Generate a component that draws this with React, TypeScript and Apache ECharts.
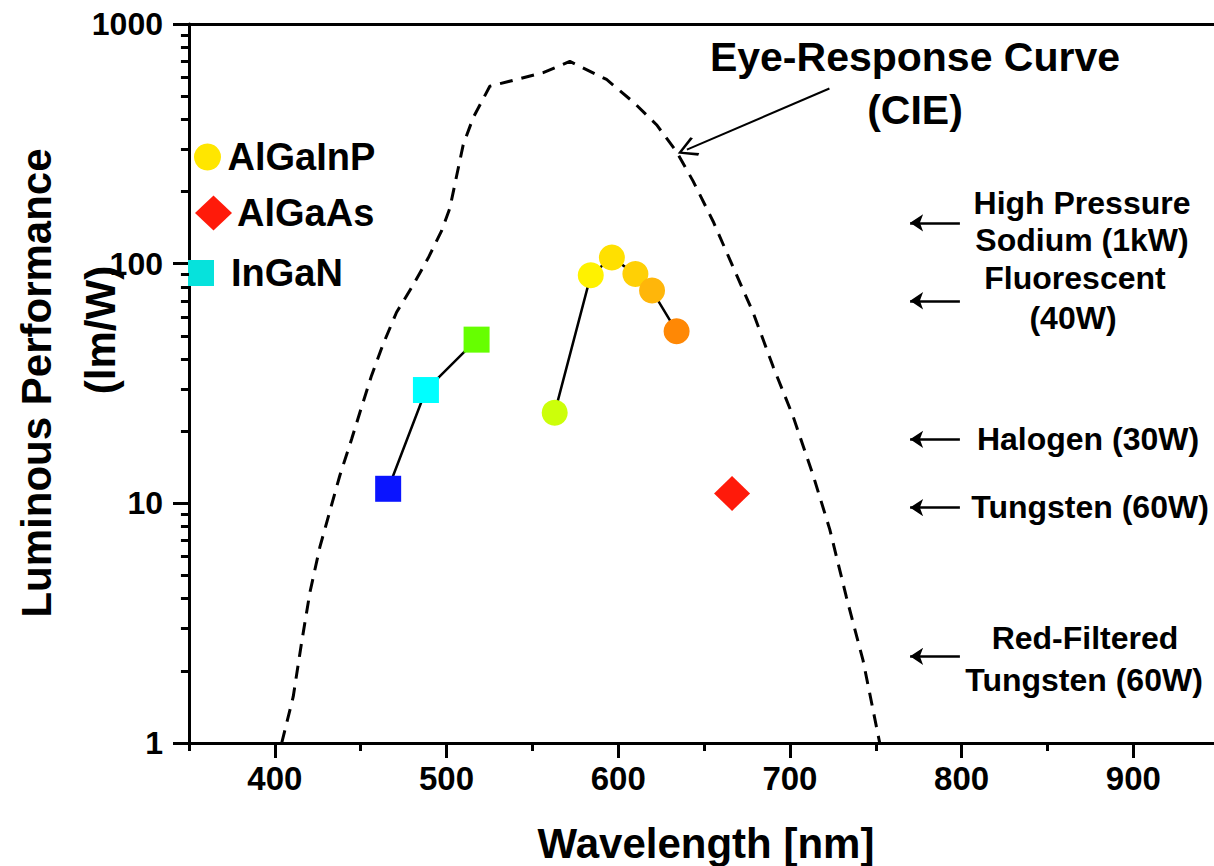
import React, { useEffect, useRef } from 'react';
import * as echarts from 'echarts';

const FONT = "'Liberation Sans', Arial, Helvetica, sans-serif";

// CIE photopic eye-response curve (wavelength in nm, lm/W)
const eyeWavelength = [404, 410.7, 415.6, 420.4, 426.2, 432, 437.9, 444.7, 450.5, 456.3, 463.1, 470.9, 480.5, 489.3, 497.1, 501.9, 505.8, 509.7, 515.5, 525.2, 540.8, 556.3, 571.8, 593.2, 608.7, 622.3, 634, 643.6, 655.3, 666.9, 678.5, 690.2, 701.9, 713.5, 723.2, 732.9, 742.6, 752.3];
const eyeEfficacy = [1, 1.56, 2.63, 4.24, 6.56, 9.26, 13.1, 18.5, 25.2, 34.1, 46.2, 62.7, 81.3, 105.5, 137, 170, 231, 313, 406, 550, 587, 627, 698, 587, 473, 380, 293, 221, 150, 96.8, 62.7, 37.2, 23.0, 13.1, 7.79, 4.06, 2.21, 1];

// InGaN LEDs
const inganWavelength = [466, 488, 517.5];
const inganEfficacy = [11.5, 29.7, 48.2];
const inganColors = ['#0a14ff', '#00ffff', '#66ff00'];

// AlGaInP LEDs
const algainpWavelength = [563, 584, 596.3, 610, 619.7, 634];
const algainpEfficacy = [23.9, 89.4, 106, 90.6, 77.2, 52.2];
const algainpColors = ['#ccff0a', '#fff200', '#ffe000', '#ffd005', '#ffb60a', '#ff8805'];

// AlGaAs LED
const algaasWavelength = [666.3];
const algaasEfficacy = [11.0];
const algaasColors = ['#ff1a0a'];

// Conventional lamps
const lampNames = ['High Pressure Sodium (1kW)', 'Fluorescent (40W)', 'Halogen (30W)', 'Tungsten (60W)', 'Red-Filtered Tungsten (60W)'];
const lampEfficacy = [148, 70, 18.5, 9.6, 2.3];

// Axis ranges and ticks
const X_MIN = 350;
const X_MAX = 947;
const xMajorTicks = [400, 500, 600, 700, 800, 900];
const xMinorTicks = [350, 450, 550, 650, 750, 850];
const yMinorTicks = [2, 3, 4, 5, 6, 7, 8, 9, 20, 30, 40, 50, 60, 70, 80, 90, 200, 300, 400, 500, 600, 700, 800, 900];

const pts = (xs: number[], ys: number[]) => xs.map((x, i) => [x, ys[i]]);
const coloredPts = (xs: number[], ys: number[], colors: string[]) =>
  xs.map((x, i) => ({ value: [x, ys[i]], itemStyle: { color: colors[i] } }));

const bold = (size: number) => `bold ${size}px ${FONT}`;

function label(text: string, x: number, y: number, size: number, rotation = 0) {
  return {
    type: 'text',
    x,
    y,
    rotation,
    silent: true,
    style: {
      text,
      font: bold(size),
      fill: '#000',
      align: 'center',
      verticalAlign: 'middle',
      textAlign: 'center',
      textVerticalAlign: 'middle',
    },
  };
}

const textBlocks = () => [
  label('Luminous Performance', 36, 383, 42, Math.PI / 2),
  label('(lm/W)', 100, 330, 42, Math.PI / 2),
  label('Wavelength [nm]', 706, 843, 42),
  label('Eye-Response Curve', 915, 57, 41),
  label('(CIE)', 915, 110, 41),
  label('High Pressure', 1082, 203, 32),
  label('Sodium (1kW)', 1082, 240, 32),
  label('Fluorescent', 1075, 278, 32),
  label('(40W)', 1073, 318, 32),
  label('Halogen (30W)', 1088, 439, 32),
  label('Tungsten (60W)', 1090, 507, 32),
  label('Red-Filtered', 1085, 638, 32),
  label('Tungsten (60W)', 1084, 680, 32),
];

function buildOption(): any {
  const black = '#000';
  const legendText = { fontSize: 38, fontWeight: 'bold', fontFamily: FONT, color: black };
  return {
    animation: false,
    backgroundColor: '#fff',
    grid: { left: 189, right: 0, top: 24, bottom: 123, outerBoundsMode: 'none', containLabel: false },
    legend: [
      {
        data: [{ name: 'AlGaInP', icon: 'circle' }],
        left: 194, top: 138, padding: 0, itemWidth: 30, itemHeight: 27,
        selectedMode: false, textStyle: legendText,
      },
      {
        data: [{ name: 'AlGaAs', icon: 'diamond' }],
        left: 195, top: 194, padding: 0, itemWidth: 37, itemHeight: 35,
        selectedMode: false, textStyle: legendText,
      },
      {
        data: [{ name: 'InGaN', icon: 'path://M0,0h10v10h-10z' }],
        left: 188, top: 254, padding: 0, itemWidth: 50, itemHeight: 26,
        selectedMode: false, textStyle: legendText,
      },
    ],
    xAxis: [
      {
        type: 'value', position: 'bottom', min: X_MIN, max: X_MAX,
        axisLine: { show: true, onZero: false, lineStyle: { color: black, width: 3 } },
        axisTick: { show: true, customValues: xMajorTicks, length: 15, lineStyle: { color: black, width: 3 } },
        axisLabel: { customValues: xMajorTicks, margin: 19, fontSize: 33, fontWeight: 'bold', fontFamily: FONT, color: black },
        splitLine: { show: false },
      },
      {
        type: 'value', position: 'bottom', min: X_MIN, max: X_MAX,
        axisLine: { show: false },
        axisTick: { show: true, customValues: xMinorTicks, length: 8, lineStyle: { color: black, width: 3 } },
        axisLabel: { show: false },
        splitLine: { show: false },
      },
      {
        type: 'value', position: 'top', min: X_MIN, max: X_MAX,
        axisLine: { show: true, onZero: false, lineStyle: { color: black, width: 3 } },
        axisTick: { show: false },
        axisLabel: { show: false },
        splitLine: { show: false },
      },
    ],
    yAxis: {
      type: 'log', logBase: 10, position: 'left', min: 1, max: 1000,
      axisLine: { show: true, onZero: false, lineStyle: { color: black, width: 3 } },
      axisTick: { show: true, length: 16, lineStyle: { color: black, width: 3 } },
      axisLabel: {
        margin: 26, fontSize: 32, fontWeight: 'bold', fontFamily: FONT, color: black,
        formatter: (v: number) => String(v),
      },
      splitLine: { show: false },
    },
    series: [
      {
        name: 'Eye-Response Curve (CIE)',
        type: 'line',
        data: pts(eyeWavelength, eyeEfficacy),
        symbol: 'none',
        lineStyle: { color: black, width: 3, type: [13, 9] },
        z: 2,
      },
      {
        name: 'InGaN trend',
        type: 'line',
        data: pts(inganWavelength, inganEfficacy),
        symbol: 'none',
        lineStyle: { color: black, width: 2.5 },
        z: 3,
      },
      {
        name: 'AlGaInP trend',
        type: 'line',
        data: pts(algainpWavelength, algainpEfficacy),
        symbol: 'none',
        lineStyle: { color: black, width: 2.5 },
        z: 3,
      },
      {
        name: 'InGaN',
        type: 'scatter',
        symbol: 'rect',
        symbolSize: 26,
        itemStyle: { color: '#06e2dc', opacity: 1 },
        data: coloredPts(inganWavelength, inganEfficacy, inganColors),
        z: 5,
      },
      {
        name: 'AlGaInP',
        type: 'scatter',
        symbol: 'circle',
        symbolSize: 26,
        itemStyle: { color: '#ffe600', opacity: 1 },
        data: coloredPts(algainpWavelength, algainpEfficacy, algainpColors),
        z: 5,
      },
      {
        name: 'AlGaAs',
        type: 'scatter',
        symbol: 'diamond',
        symbolSize: [36, 35],
        itemStyle: { color: '#ff1a0a', opacity: 1 },
        data: coloredPts(algaasWavelength, algaasEfficacy, algaasColors),
        z: 5,
      },
      {
        name: 'Lamps',
        type: 'lines',
        coordinateSystem: 'cartesian2d',
        symbol: ['none', 'arrow'],
        symbolSize: 13,
        lineStyle: { color: black, width: 2.5, opacity: 1 },
        data: lampEfficacy.map((v, i) => ({ name: lampNames[i], coords: [[799, v], [770, v]] })),
        z: 4,
      },
      {
        // short ticks at 2..9 of every decade, drawn as horizontal segments just left of the axis
        name: 'y minor ticks',
        type: 'lines',
        coordinateSystem: 'cartesian2d',
        clip: false,
        silent: true,
        symbol: ['none', 'none'],
        lineStyle: { color: black, width: 3, opacity: 1 },
        data: yMinorTicks.map((v) => ({ coords: [[X_MIN - 4.7, v], [X_MIN, v]] })),
        z: 6,
      },
      {
        name: 'CIE pointer',
        type: 'lines',
        coordinateSystem: 'cartesian2d',
        symbol: ['none', 'path://M5,0 L10,9 L9,10 L5,2.4 L1,10 L0,9 Z'],
        symbolSize: 20,
        lineStyle: { color: black, width: 2, opacity: 1 },
        data: [{ coords: [[723, 538], [640, 299]] }],
        z: 4,
      },
    ],
    graphic: textBlocks(),
  };
}

export default function App() {
  const ref = useRef<HTMLDivElement | null>(null);
  useEffect(() => {
    if (!ref.current) return;
    const chart = echarts.init(ref.current, undefined, { renderer: 'svg' });
    chart.setOption(buildOption());
    return () => chart.dispose();
  }, []);
  return (
    <div
      ref={ref}
      style={{ position: 'absolute', left: 0, top: 0, width: 1214, height: 866, background: '#fff' }}
    />
  );
}
